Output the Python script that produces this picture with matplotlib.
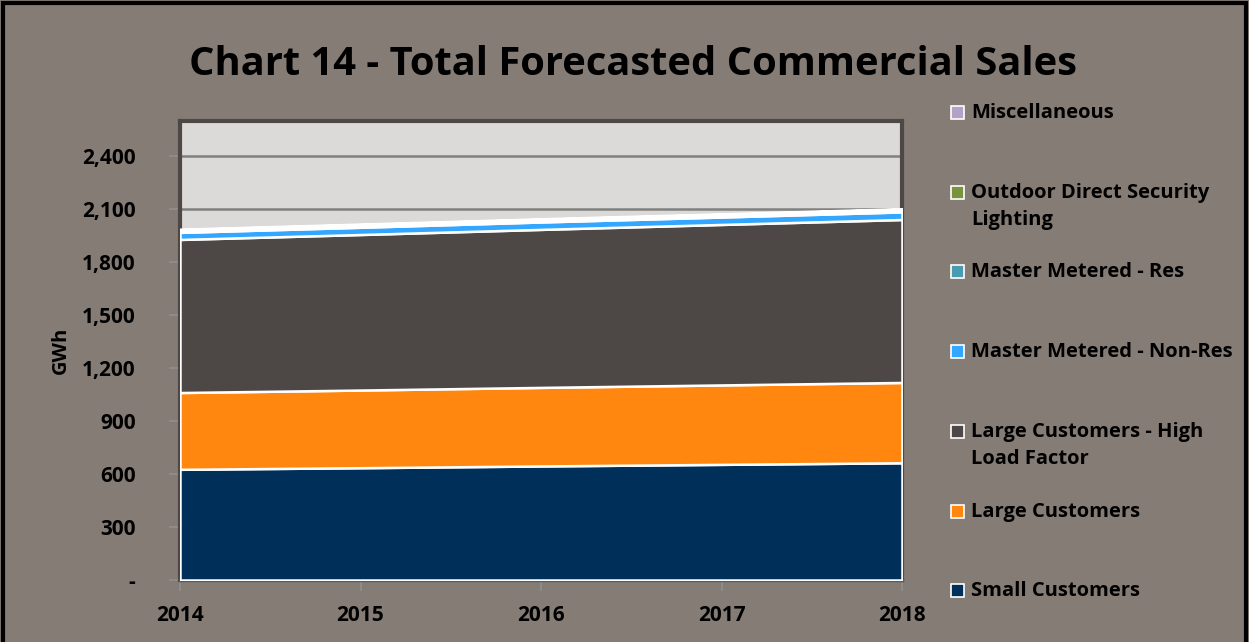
import matplotlib.pyplot as plt
from matplotlib.patches import Rectangle
from matplotlib.ticker import FuncFormatter

plt.rcParams['font.family'] = ['Open Sans', 'DejaVu Sans']
plt.rcParams['font.weight'] = 'bold'

years = [2014, 2015, 2016, 2017, 2018]

# forecast sales by class, GWh (stacked bottom to top)
small_customers = [627, 636, 646, 655, 664]
large_customers = [435, 440, 445, 450, 455]
large_high_lf = [867, 881, 895, 909, 923]
master_non_res = [40, 41, 42, 42, 43]
master_res = [10, 10, 10, 10, 10]
outdoor_lighting = [5, 5, 5, 5, 5]
miscellaneous = [3, 3, 3, 3, 3]

series = [small_customers, large_customers, large_high_lf, master_non_res,
          master_res, outdoor_lighting, miscellaneous]
labels = ['Small Customers', 'Large Customers',
          'Large Customers - High\nLoad Factor', 'Master Metered - Non-Res',
          'Master Metered - Res', 'Outdoor Direct Security\nLighting',
          'Miscellaneous']
colors = ['#00305a', '#ff870f', '#4d4845', '#33a6ff',
          '#4a9bb0', '#77933c', '#b3a2c7']

bg = '#857c76'
fig = plt.figure(figsize=(12.49, 6.42), dpi=100, facecolor=bg)

# black frame around the chart
fig.add_artist(Rectangle((3 / 1249, -0.05), 1243 / 1249, 1.05 - 3 / 642,
                         transform=fig.transFigure, fill=False,
                         edgecolor='black', linewidth=3))

ax = fig.add_axes([180 / 1249, 62 / 642, 722 / 1249, 459 / 642])
ax.set_facecolor('#dcdad8')

ax.stackplot(years, *series, colors=colors, edgecolor='white', linewidth=1.8,
             zorder=3)

ax.set_xlim(2014, 2018)
ax.set_ylim(0, 2600)
ax.set_yticks(range(0, 2401, 300))
ax.yaxis.set_major_formatter(
    FuncFormatter(lambda v, p: '-' if v == 0 else f'{int(v):,}'))
ax.set_xticks(years)
ax.grid(axis='y', color='#808080', linewidth=1.8, zorder=1)
ax.set_axisbelow(True)

for side in ['top', 'right', 'left']:
    ax.spines[side].set_color('#4d4845')
    ax.spines[side].set_linewidth(3)
ax.spines['bottom'].set_color('#5a5a5a')
ax.spines['bottom'].set_linewidth(2.5)

ax.tick_params(axis='both', colors='#8c8c8c', length=8, width=1.5,
               labelcolor='black', labelsize=15)
ax.tick_params(axis='y', pad=24)
ax.tick_params(axis='x', pad=10)
for lab in ax.get_xticklabels() + ax.get_yticklabels():
    lab.set_fontweight('bold')

ax.set_ylabel('GWh', fontsize=14.5, fontweight='bold', labelpad=8)

fig.text(0.507, 0.899, 'Chart 14 - Total Forecasted Commercial Sales',
         ha='center', va='center', fontsize=28.7, fontweight='bold')

# legend, top entry first
legend_y = [113, 193, 272, 352, 432, 512, 591]
for y, lab, col in zip(legend_y, labels[::-1], colors[::-1]):
    fig.add_artist(Rectangle((951 / 1249, 1 - (y + 6) / 642), 13 / 1249,
                             13 / 642, transform=fig.transFigure,
                             facecolor=col, edgecolor='white', linewidth=1.2))
    fig.text(971 / 1249, 1 - (y - 10) / 642, lab, ha='left', va='top',
             fontsize=14.5, fontweight='bold', linespacing=1.45)

fig.savefig('out.png', dpi=100, facecolor=bg)
